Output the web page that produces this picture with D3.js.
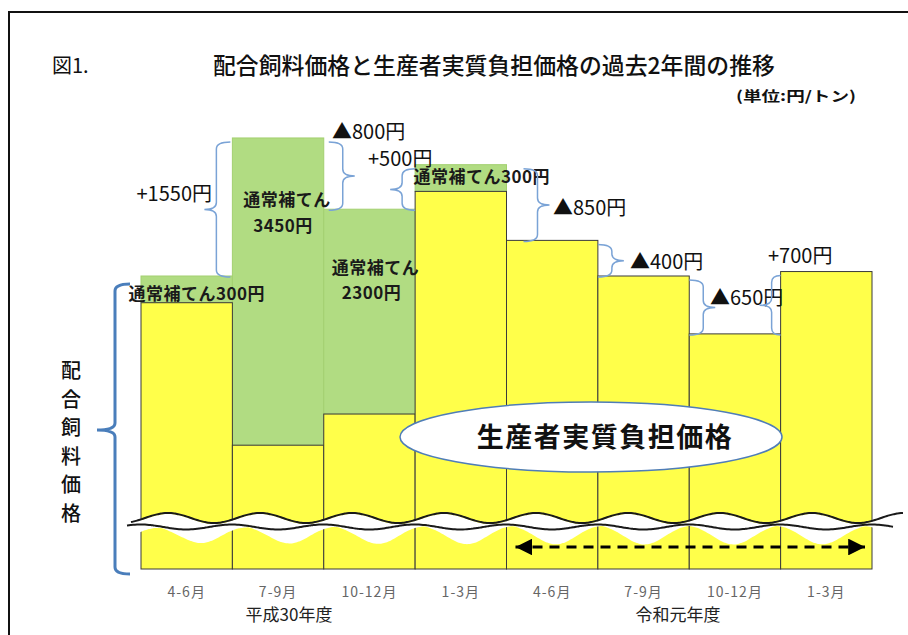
<!DOCTYPE html>
<html>
<head>
<meta charset="utf-8">
<script src="https://cdn.jsdelivr.net/npm/d3@7"></script>
<style>
  body { margin: 0; background: #fff; }
  text { font-family: "Noto Sans CJK JP", "Liberation Sans", sans-serif; }
</style>
</head>
<body>
<div id="chart"></div>
<script>
// quarters on the x axis (two fiscal years)
const quarters = ["4-6月", "7-9月", "10-12月", "1-3月", "4-6月", "7-9月", "10-12月", "1-3月"];
const fiscalYears = ["平成30年度", "令和元年度"];
// feed price per quarter (yen / ton)
const feedPrice = [66200, 67750, 66950, 67450, 66600, 66200, 65550, 66250];
// regular compensation per quarter (yen / ton)
const subsidy = [300, 3450, 2300, 300, 0, 0, 0, 0];
// value at the broken bottom of the axis
const axisFloor = 62910;

const width = 908, height = 635;
const svg = d3.select("#chart").append("svg")
    .attr("width", width)
    .attr("height", height);

const x = d3.scaleBand().domain(d3.range(quarters.length)).range([141, 872]).padding(0);
const y = d3.scaleLinear().domain([axisFloor, feedPrice[0]]).range([569, 276]);

// frame
svg.append("rect")
    .attr("x", 9).attr("y", 12)
    .attr("width", 920).attr("height", 640)
    .attr("fill", "none").attr("stroke", "#111").attr("stroke-width", 2);

// title
svg.append("text").attr("x", 52).attr("y", 73)
    .attr("font-size", 20).attr("fill", "#111").text("図1.");
svg.append("text").attr("x", 213).attr("y", 74)
    .attr("font-size", 23).attr("font-weight", 500).attr("fill", "#111")
    .attr("textLength", 562).attr("lengthAdjust", "spacingAndGlyphs")
    .text("配合飼料価格と生産者実質負担価格の過去2年間の推移");
svg.append("text").attr("x", 736).attr("y", 101)
    .attr("font-size", 14).attr("font-weight", 700).attr("fill", "#111")
    .attr("textLength", 120).attr("lengthAdjust", "spacingAndGlyphs")
    .text("(単位:円/トン)");

// bars: green = compensation, yellow = producer's net burden
const bars = svg.append("g");
bars.selectAll("rect.green")
    .data(d3.range(quarters.length).filter(i => subsidy[i] > 0))
    .join("rect")
    .attr("class", "green")
    .attr("x", i => x(i))
    .attr("y", i => y(feedPrice[i]))
    .attr("width", x.bandwidth())
    .attr("height", i => y(feedPrice[i] - subsidy[i]) - y(feedPrice[i]))
    .attr("fill", "#B1DC82")
    .attr("stroke", "#A3D070")
    .attr("stroke-width", 1);

bars.selectAll("rect.yellow")
    .data(d3.range(quarters.length))
    .join("rect")
    .attr("class", "yellow")
    .attr("x", i => x(i))
    .attr("y", i => y(feedPrice[i] - subsidy[i]))
    .attr("width", x.bandwidth())
    .attr("height", i => y(axisFloor) - y(feedPrice[i] - subsidy[i]))
    .attr("fill", "#FFFF4A")
    .attr("stroke", "#3a3a3a")
    .attr("stroke-width", 1);

// wavy axis break
const waveXs = d3.range(127, 905, 2);
const upper = xv => 518 - 5 * Math.cos(2 * Math.PI * (xv - 168) / 92);
const lower = xv => 527 - 2.5 * Math.cos(2 * Math.PI * (xv - 232) / 91.4);
const dip = xv => {
    const k = Math.round((xv - 205) / 88);
    const c = 205 + 88 * k;
    return 15 * Math.exp(-((xv - c) ** 2) / (2 * 20 * 20));
};
svg.append("path")
    .datum(waveXs)
    .attr("d", d3.area().x(d => d).y0(d => upper(d) + 1).y1(d => lower(d) + dip(d)).curve(d3.curveBasis))
    .attr("fill", "#fff");
svg.append("path")
    .datum(waveXs.filter(d => d >= 130))
    .attr("d", d3.line().x(d => d).y(d => upper(d)).curve(d3.curveBasis))
    .attr("fill", "none").attr("stroke", "#1a1a1a").attr("stroke-width", 2);
svg.append("path")
    .datum(waveXs.filter(d => d <= 893))
    .attr("d", d3.line().x(d => d).y(d => lower(d)).curve(d3.curveBasis))
    .attr("fill", "none").attr("stroke", "#1a1a1a").attr("stroke-width", 2);

// compensation labels
const subLabel = [
    { i: 0, dx: 10, lines: ["通常補てん300円"], dy: [24] },
    { i: 1, dx: 9, lines: ["通常補てん", "3450円"], dy: [68, 94] },
    { i: 2, dx: 6, lines: ["通常補てん", "2300円"], dy: [65, 90] },
    { i: 3, dx: 21, lines: ["通常補てん300円"], dy: [18] }
];
subLabel.forEach(s => {
    s.lines.forEach((t, j) => {
        svg.append("text")
            .attr("x", x(s.i) + x.bandwidth() / 2 + s.dx - (j > 0 ? 4 : 0))
            .attr("y", y(feedPrice[s.i]) + s.dy[j])
            .attr("text-anchor", "middle")
            .attr("font-size", 17).attr("font-weight", 700).attr("fill", "#1a1a1a")
            .attr("letter-spacing", 0.5)
            .text(t);
    });
});

// curly brace helper
function bracePath(bx, y1, y2, endDx, tipDx, tipY) {
    const r = Math.min(7, (y2 - y1) / 4);
    return `M${bx + endDx},${y1} Q${bx},${y1} ${bx},${y1 + r} L${bx},${tipY - r} ` +
        `Q${bx},${tipY} ${bx + tipDx},${tipY} Q${bx},${tipY} ${bx},${tipY + r} ` +
        `L${bx},${y2 - r} Q${bx},${y2} ${bx + endDx},${y2}`;
}

// change between consecutive quarters
const braceGap = [16, 19, 13, 31, 14, 14, 9];
const changeLabelPos = [[212, 201, "end"], [332, 139, "start"], [368, 166, "start"], [553, 215, "start"],
    [630, 269, "start"], [710, 305, "start"], [768, 263, "start"]];
d3.range(quarters.length - 1).forEach(i => {
    const a = feedPrice[i], b = feedPrice[i + 1];
    const diff = b - a;
    const boundary = x(i + 1);
    const towardTaller = diff > 0 ? 1 : -1; // +1: taller bar is on the right
    const spine = boundary - towardTaller * braceGap[i];
    const endLen = Math.min(braceGap[i], 14);
    const y1 = y(Math.max(a, b)) + 4;
    const y2 = y(Math.min(a, b)) + 1;
    const tipY = (y1 + y2) / 2;
    svg.append("path")
        .attr("d", bracePath(spine, y1, y2, towardTaller * endLen, -towardTaller * 12, tipY))
        .attr("fill", "none").attr("stroke", "#7AA3D6").attr("stroke-width", 1.5);
    const p = changeLabelPos[i];
    svg.append("text")
        .attr("x", p[0]).attr("y", p[1])
        .attr("text-anchor", p[2])
        .attr("font-family", "'Liberation Sans', 'Noto Sans CJK JP', sans-serif")
        .attr("font-size", 20).attr("fill", "#111")
        .text((diff > 0 ? "+" : "▲") + Math.abs(diff) + "円");
});

// big brace for the feed price
svg.append("path")
    .attr("d", bracePath(115, 284, 574, 15, -18, 430))
    .attr("fill", "none").attr("stroke", "#4A7EBB").attr("stroke-width", 3);
const vLabel = "配合飼料価格".split("");
svg.selectAll("text.vlabel")
    .data(vLabel)
    .join("text")
    .attr("class", "vlabel")
    .attr("x", 71)
    .attr("y", (d, i) => 378 + i * 28.5)
    .attr("text-anchor", "middle")
    .attr("font-size", 20).attr("font-weight", 500).attr("fill", "#111")
    .text(d => d);

// ellipse callout
svg.append("ellipse")
    .attr("cx", 591).attr("cy", 437).attr("rx", 191).attr("ry", 35)
    .attr("fill", "#fff").attr("stroke", "#4F7DB8").attr("stroke-width", 1.5);
svg.append("text")
    .attr("x", 605).attr("y", 447)
    .attr("text-anchor", "middle")
    .attr("font-size", 27).attr("font-weight", 700).attr("fill", "#111")
    .attr("letter-spacing", 1.5)
    .text("生産者実質負担価格");

// dashed double arrow over the second fiscal year
const defs = svg.append("defs");
["start", "end"].forEach(k => {
    defs.append("marker")
        .attr("id", "arrow-" + k)
        .attr("viewBox", "0 0 10 10")
        .attr("refX", 10).attr("refY", 5)
        .attr("markerWidth", 6).attr("markerHeight", 6)
        .attr("markerUnits", "strokeWidth")
        .attr("orient", k === "start" ? "auto-start-reverse" : "auto")
        .append("path").attr("d", "M0,0 L10,5 L0,10 Z").attr("fill", "#000");
});
svg.append("line")
    .attr("x1", x(4) + 9).attr("x2", x(7) + x.bandwidth() - 7)
    .attr("y1", 547).attr("y2", 547)
    .attr("stroke", "#000").attr("stroke-width", 2.8)
    .attr("stroke-dasharray", "10,7")
    .attr("marker-start", "url(#arrow-start)")
    .attr("marker-end", "url(#arrow-end)");

// x axis labels
svg.selectAll("text.tick")
    .data(quarters)
    .join("text")
    .attr("class", "tick")
    .attr("x", (d, i) => x(i) + x.bandwidth() / 2)
    .attr("y", 597)
    .attr("text-anchor", "middle")
    .attr("font-size", 14).attr("fill", "#666")
    .attr("letter-spacing", 1)
    .text(d => d);

const fyX = [289, 678];
svg.selectAll("text.fy")
    .data(fiscalYears)
    .join("text")
    .attr("class", "fy")
    .attr("x", (d, i) => fyX[i])
    .attr("y", 621)
    .attr("text-anchor", "middle")
    .attr("font-size", 17).attr("fill", "#222")
    .text(d => d);
</script>
</body>
</html>
